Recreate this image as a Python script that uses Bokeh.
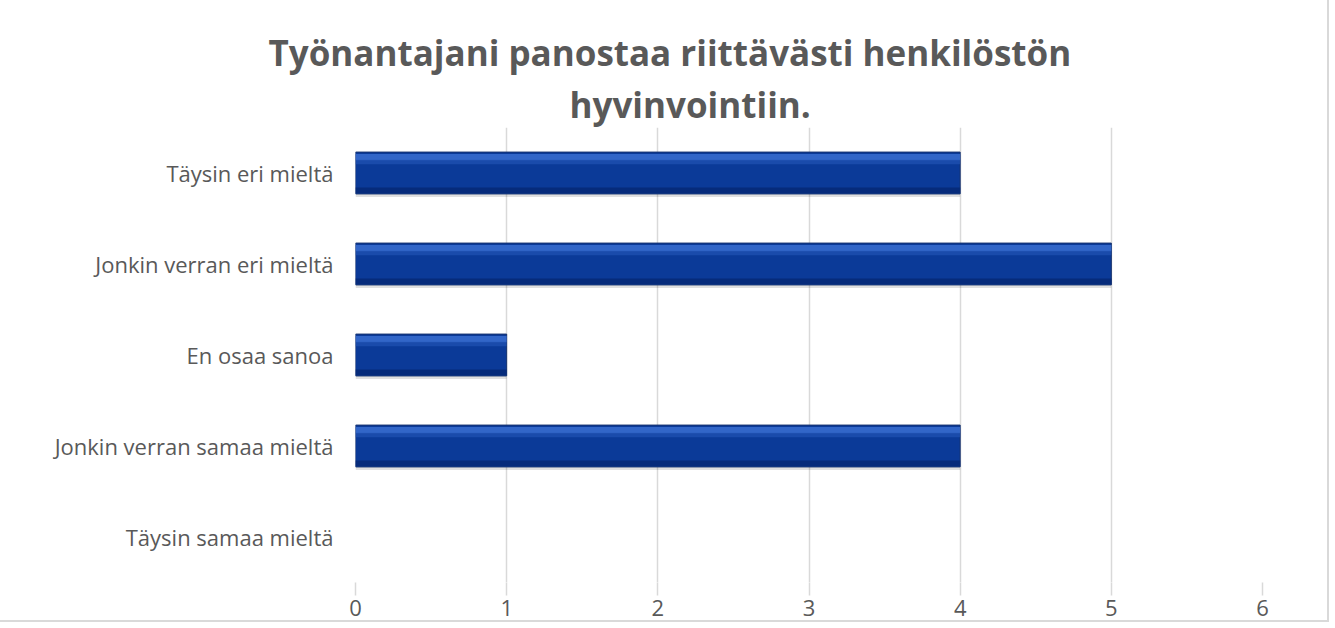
from bokeh.plotting import figure
from bokeh.models import ColumnDataSource, Title, FixedTicker
from bokeh.transform import dodge
from bokeh.embed import file_html
from bokeh.resources import INLINE

categories = ["Täysin samaa mieltä", "Jonkin verran samaa mieltä", "En osaa sanoa",
              "Jonkin verran eri mieltä", "Täysin eri mieltä"]
values = [0, 4, 1, 5, 4]
x_ticks = [0, 1, 2, 3, 4, 5, 6]
title_lines = ["Työnantajani panostaa riittävästi henkilöstön", "hyvinvointiin."]

edge = ["#17336e" if v > 0 else None for v in values]
src = ColumnDataSource(dict(cat=categories, val=values, edge=edge))

FONT = "Open Sans"
p = figure(y_range=categories, x_range=(0, 6), width=1327, height=620,
           output_backend="svg", toolbar_location=None,
           min_border_left=355, min_border_right=65, min_border_top=127, min_border_bottom=38)
p.styles = {"outline": "2px solid #d9d9d9"}
p.outline_line_color = None
p.background_fill_color = "white"
p.border_fill_color = "white"

# shadow
p.hbar(y=dodge("cat", -0.035, range=p.y_range), right="val", left=0, height=0.46, source=src,
       fill_color="#000000", fill_alpha=0.12, line_color=None)
# main bar
p.hbar(y="cat", right="val", left=0, height=0.46, source=src,
       fill_color="#0b3a98", line_color="edge", line_width=1)
# highlight band near top
p.hbar(y=dodge("cat", 0.175, range=p.y_range), right="val", left=0, height=0.07, source=src,
       fill_color="#3a6fd0", fill_alpha=0.85, line_color=None)
p.hbar(y=dodge("cat", 0.12, range=p.y_range), right="val", left=0, height=0.05, source=src,
       fill_color="#2457b8", fill_alpha=0.6, line_color=None)
# dark band at bottom
p.hbar(y=dodge("cat", -0.19, range=p.y_range), right="val", left=0, height=0.06, source=src,
       fill_color="#062a78", fill_alpha=0.9, line_color=None)

p.xaxis.ticker = FixedTicker(ticks=x_ticks)
p.xgrid.grid_line_color = "#d9d9d9"
p.xgrid.grid_line_width = 1.5
p.ygrid.grid_line_color = None
p.xaxis.axis_line_color = None
p.xaxis.major_tick_line_color = "#d9d9d9"
p.xaxis.major_tick_line_width = 1.5
p.xaxis.major_tick_out = 13
p.xaxis.major_tick_in = 0
p.xaxis.minor_tick_line_color = None
p.xaxis.major_label_standoff = 4
p.yaxis.axis_line_color = None
p.yaxis.major_tick_line_color = None
p.yaxis.minor_tick_line_color = None
p.yaxis.major_label_standoff = 16
for ax in (p.xaxis, p.yaxis):
    ax.major_label_text_font = FONT
    ax.major_label_text_font_size = "22px"
    ax.major_label_text_color = "#595959"

# second line first (closest to plot), then first line
for t, off, so in [(title_lines[1], 214, 0), (title_lines[0], -87, 5)]:
    p.add_layout(Title(text=t, align="left", offset=off, standoff=so,
                       text_font=FONT, text_font_style="bold", text_font_size="35px",
                       text_color="#595959"), "above")

open("out.html", "w").write(file_html(p, INLINE))
